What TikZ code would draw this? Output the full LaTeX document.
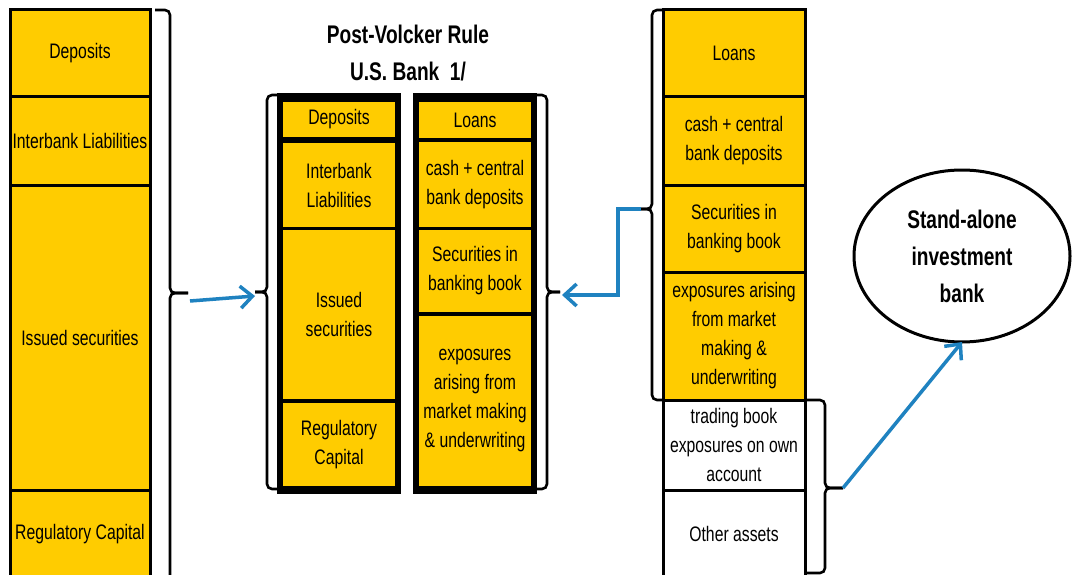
\documentclass[tikz,border=0pt]{standalone}
\usepackage{fontspec}
\setmainfont{Liberation Sans}[FakeStretch=0.75]
\usetikzlibrary{positioning,shapes.geometric,arrows.meta}
\definecolor{bankyellow}{RGB}{255,204,0}
\definecolor{arrowblue}{RGB}{31,130,192}

\begin{document}
\begin{tikzpicture}[x=1pt, y=-1pt, every node/.style={font=\fontsize{21}{29}\selectfont, align=center, outer sep=0pt},
  cell/.style={draw, line width=3pt, fill=bankyellow, minimum width=140pt, inner sep=1pt},
  incell/.style={fill=bankyellow, minimum width=112pt, inner sep=1pt},
  frame/.style={fill=black, minimum width=124pt, minimum height=401pt},
  bracket/.style={draw, line width=2.6pt, rounded corners=5pt},
  flow/.style={draw=arrowblue, line width=3.5pt, -{Straight Barb[length=12pt,width=22pt]}},
  bold text/.style={font=\bfseries\fontsize{25.5}{37}\selectfont}]
\useasboundingbox (0,0) rectangle (1073,575);

% pre-Volcker liabilities
\node[cell, minimum height=87pt, anchor=north] (ldep) at (80,10) {Deposits};
\node[cell, minimum height=88pt, below=0pt of ldep] (lint) {Interbank Liabilities};
\node[cell, minimum height=305pt, below=0pt of lint] (liss) {Issued securities};
\node[cell, minimum height=88pt, below=0pt of liss] (lcap) {Regulatory Capital};

% post-Volcker bank
\node[bold text] (ttl) at (408,53) {Post-Volcker Rule\\U.S. Bank~~1/};
\node[frame] (mliab) at (339,293.5) {};
\node[incell, minimum height=35pt, anchor=north] (mdep) at (339,102) {Deposits};
\node[incell, minimum height=84pt, below=6pt of mdep] (mint) {Interbank\\Liabilities};
\node[incell, minimum height=169pt, below=3pt of mint] (miss) {Issued\\securities};
\node[incell, minimum height=83pt, below=4pt of miss] (mcap) {Regulatory\\Capital};

\node[frame] (massets) at (475,293.5) {};
\node[incell, minimum height=36pt, anchor=north] (mloan) at (475,102) {Loans};
\node[incell, minimum height=85pt, below=4pt of mloan] (mcash) {cash + central\\bank deposits};
\node[incell, minimum height=82pt, below=3pt of mcash] (msec) {Securities in\\banking book};
\node[incell, minimum height=170pt, below=4pt of msec] (mexp) {exposures\\arising from\\market making\\\& underwriting};

% pre-Volcker assets
\node[cell, minimum width=142pt, minimum height=87pt, anchor=north] (rloan) at (734,10) {Loans};
\node[cell, minimum width=142pt, minimum height=88pt, below=0pt of rloan] (rcash) {cash + central\\bank deposits};
\node[cell, minimum width=142pt, minimum height=87pt, below=0pt of rcash] (rsec) {Securities in\\banking book};
\node[cell, minimum width=142pt, minimum height=128pt, below=0pt of rsec] (rexp) {exposures arising\\from market\\making \&\\underwriting};
\node[cell, fill=white, minimum width=142pt, minimum height=90pt, below=0pt of rexp] (rtrade) {trading book\\exposures on own\\account};
\node[cell, fill=white, minimum width=142pt, minimum height=88pt, below=0pt of rtrade] (rother) {Other assets};

\node[ellipse, draw, line width=3pt, minimum width=216pt, minimum height=172pt, inner sep=0pt, bold text] (ib) at (962,256) {Stand-alone\\investment\\bank};

% braces
\coordinate (ltip) at (188,293);
\draw[bracket] (155,10) -- (170,10) -- (170,293) -- (ltip);
\draw[bracket] (155,580) -- (170,580) -- (170,293) -- (ltip);
\coordinate (mltip) at (255,292);
\draw[bracket] (277,95) -- (267,95) -- (267,292) -- (mltip);
\draw[bracket] (277,489) -- (267,489) -- (267,292) -- (mltip);
\coordinate (mrtip) at (560,292);
\draw[bracket] (537,95) -- (547,95) -- (547,292) -- (mrtip);
\draw[bracket] (537,489) -- (547,489) -- (547,292) -- (mrtip);
\coordinate (rtip) at (641,209);
\draw[bracket] (663,10) -- (652,10) -- (652,209) -- (rtip);
\draw[bracket] (663,400) -- (652,400) -- (652,209) -- (rtip);
\coordinate (btip) at (843,488);
\draw[bracket] (805,400) -- (825,400) -- (825,488) -- (btip);
\draw[bracket] (805,573) -- (825,573) -- (825,488) -- (btip);

% arrows
\draw[flow] ([shift={(2pt,-8pt)}]ltip) -- ([yshift=-4pt]mltip);
\draw[flow] (rtip) -- ++(-23,0) |- ([shift={(2pt,-3pt)}]mrtip);
\draw[flow] (btip) -- (ib.south);
\end{tikzpicture}
\end{document}
